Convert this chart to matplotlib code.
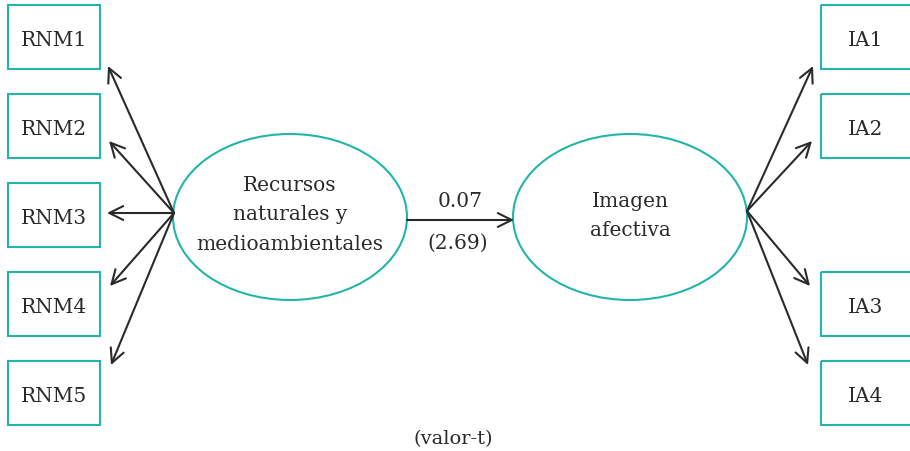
import matplotlib
matplotlib.use("Agg")
import matplotlib.pyplot as plt
from matplotlib.patches import Rectangle, Ellipse

left_labels = ["RNM1", "RNM2", "RNM3", "RNM4", "RNM5"]
right_labels = ["IA1", "IA2", "IA3", "IA4"]
left_construct = "Recursos\nnaturales y\nmedioambientales"
right_construct = "Imagen\nafectiva"
coef = "0.07"
tval = "(2.69)"
note = "(valor-t)"

TEAL = "#22b5a9"
INK = "#2a2a2a"
FONT = "DejaVu Serif"

fig = plt.figure(figsize=(9.10, 4.52), dpi=100)
ax = fig.add_axes([0, 0, 1, 1])
ax.set_xlim(0, 910)
ax.set_ylim(452, 0)
ax.axis("off")

box_h = 64
left_tops = [6, 95, 184, 273, 362]
right_tops = [6, 95, 273, 362]

def arrow(x0, y0, x1, y1):
    ax.annotate("", xy=(x1, y1), xytext=(x0, y0),
                arrowprops=dict(arrowstyle="->,head_length=1.0,head_width=0.5",
                                color=INK, lw=1.5, shrinkA=0, shrinkB=0))

# left boxes
lsrc = (174, 214)
for lab, top in zip(left_labels, left_tops):
    ax.add_patch(Rectangle((8, top), 92, box_h, fill=False, ec=TEAL, lw=1.5))
    ax.text(54, top + box_h / 2 + 3, lab, ha="center", va="center",
            fontsize=14.5, family=FONT, color=INK)

left_tips = [(108, 67), (109, 142), (107, 214), (110, 287), (111, 366)]
for tx, ty in left_tips:
    arrow(lsrc[0], lsrc[1], tx, ty)

# right boxes
rsrc = (747, 212)
for lab, top in zip(right_labels, right_tops):
    ax.add_patch(Rectangle((821, top), 100, box_h, fill=False, ec=TEAL, lw=1.5))
    ax.text(866, top + box_h / 2 + 3, lab, ha="center", va="center",
            fontsize=14.5, family=FONT, color=INK)

right_tips = [(813, 67), (812, 142), (810, 287), (808, 366)]
for tx, ty in right_tips:
    arrow(rsrc[0], rsrc[1], tx, ty)

# ellipses
ax.add_patch(Ellipse((290, 218), 234, 166, fill=False, ec=TEAL, lw=1.5))
ax.add_patch(Ellipse((630, 218), 234, 166, fill=False, ec=TEAL, lw=1.5))
ax.text(290, 215, left_construct, ha="center", va="center", fontsize=14.5,
        family=FONT, color=INK, linespacing=1.68)
ax.text(630, 216, right_construct, ha="center", va="center", fontsize=14.5,
        family=FONT, color=INK, linespacing=1.68)

# structural path
arrow(407, 221, 514, 221)
ax.text(460, 202, coef, ha="center", va="center", fontsize=14.5, family=FONT, color=INK)
ax.text(458, 243, tval, ha="center", va="center", fontsize=14.5, family=FONT, color=INK)

ax.text(453, 439, note, ha="center", va="center", fontsize=14, family=FONT, color=INK)

fig.savefig("out.png", dpi=100)
